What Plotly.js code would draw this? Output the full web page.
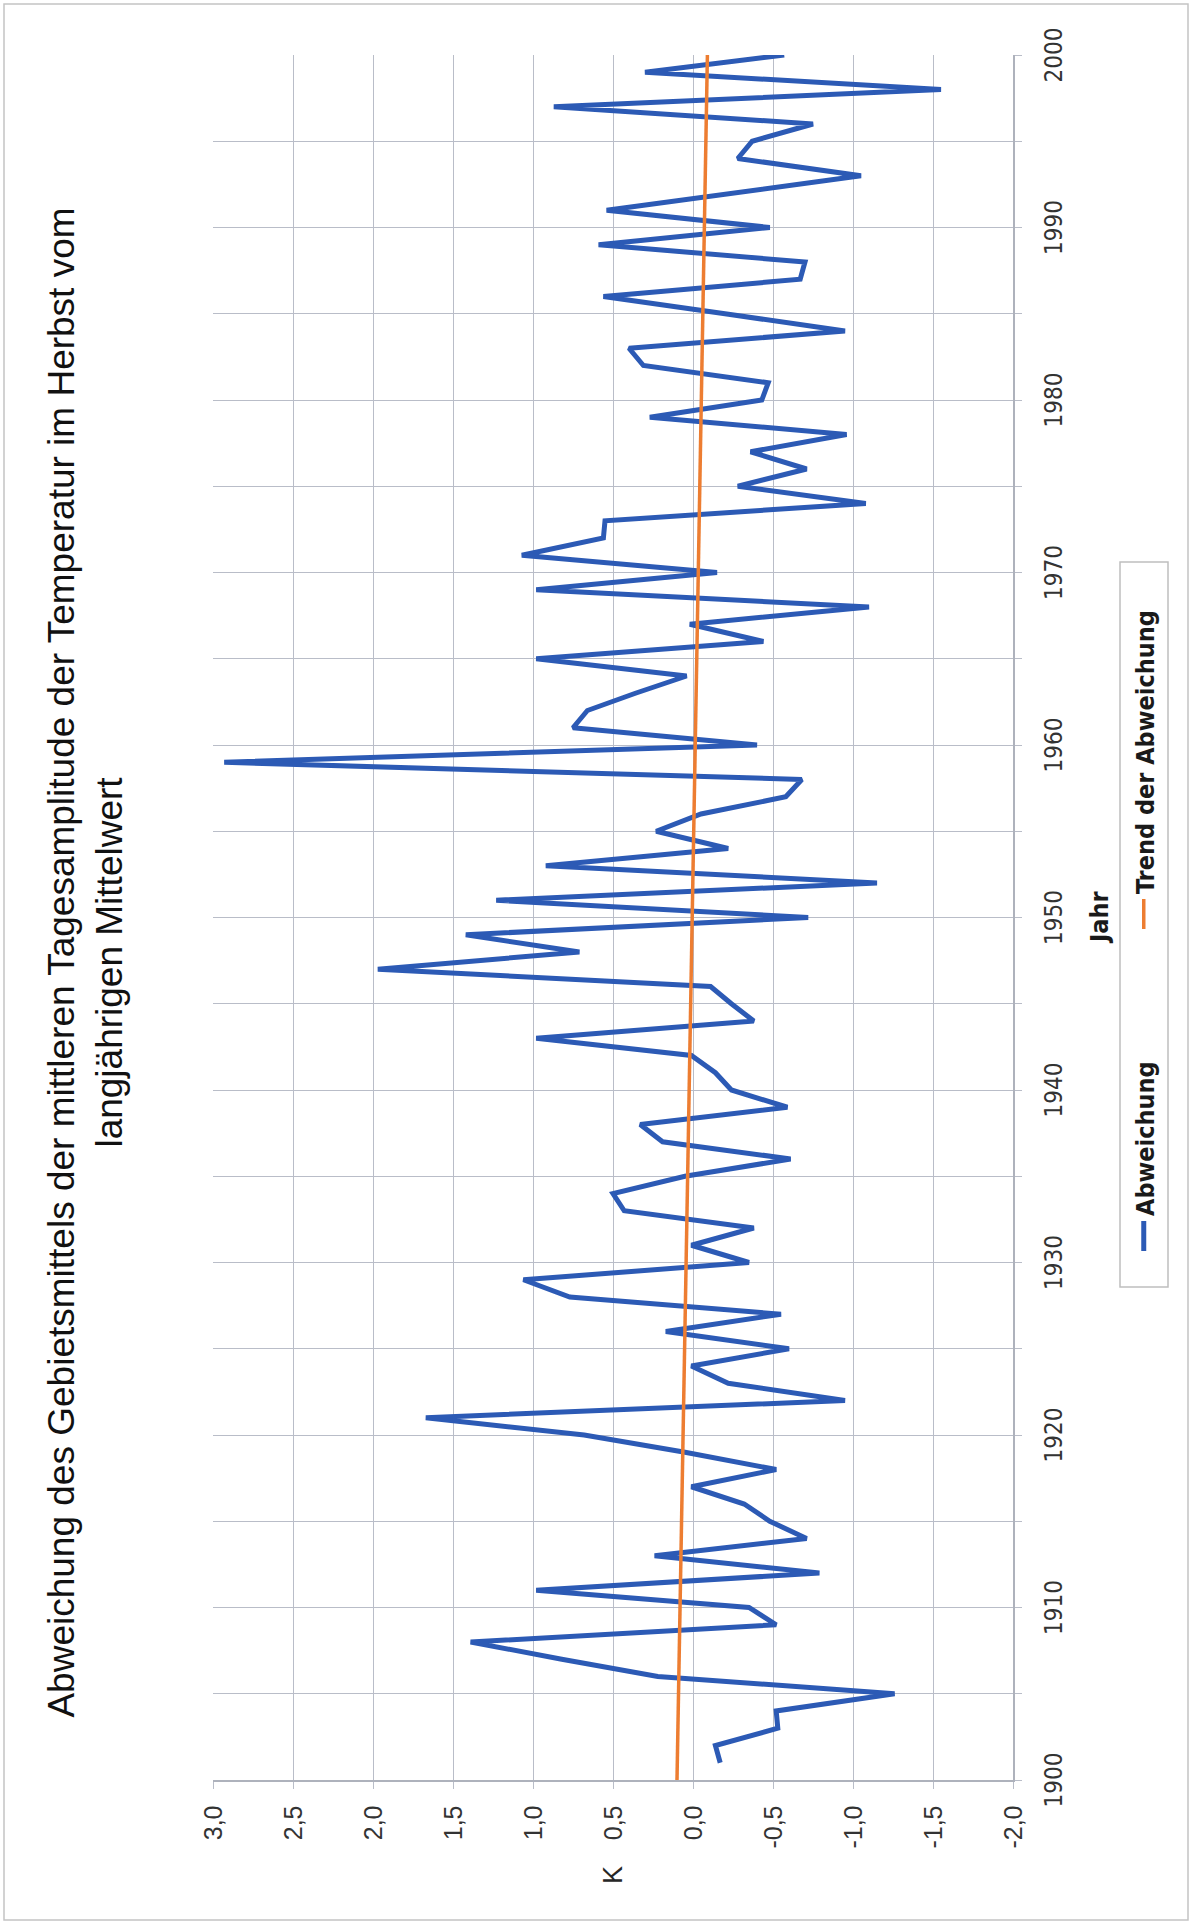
<!DOCTYPE html>
<html>
<head>
<meta charset="utf-8">
<script src="https://cdn.plot.ly/plotly-3.0.1.min.js"></script>
<style>
  html, body { margin:0; padding:0; background:#fff; }
  body { width:1192px; height:1925px; overflow:hidden; position:relative; }
  #chart { position:absolute; left:0; top:0; width:1925px; height:1192px;
           transform-origin:0 0; transform:translate(0px,1925px) rotate(-90deg); }
</style>
</head>
<body>
<div id="chart"></div>
<script>
// Years 1901..2000
const years = [
  1901,1902,1903,1904,1905,1906,1907,1908,1909,1910,
  1911,1912,1913,1914,1915,1916,1917,1918,1919,1920,
  1921,1922,1923,1924,1925,1926,1927,1928,1929,1930,
  1931,1932,1933,1934,1935,1936,1937,1938,1939,1940,
  1941,1942,1943,1944,1945,1946,1947,1948,1949,1950,
  1951,1952,1953,1954,1955,1956,1957,1958,1959,1960,
  1961,1962,1963,1964,1965,1966,1967,1968,1969,1970,
  1971,1972,1973,1974,1975,1976,1977,1978,1979,1980,
  1981,1982,1983,1984,1985,1986,1987,1988,1989,1990,
  1991,1992,1993,1994,1995,1996,1997,1998,1999,2000
];
// Abweichung (K)
const abweichung = [
  -0.17,-0.14,-0.53,-0.52,-1.26, 0.22, 0.82, 1.39,-0.52,-0.35,
   0.98,-0.79, 0.24,-0.71,-0.48,-0.32, 0.01,-0.52, 0.05, 0.68,
   1.67,-0.95,-0.22, 0.01,-0.60, 0.17,-0.55, 0.77, 1.06,-0.35,
   0.01,-0.38, 0.43, 0.50, 0.05,-0.61, 0.19, 0.33,-0.59,-0.24,
  -0.14, 0.01, 0.98,-0.38,-0.24,-0.11, 1.97, 0.71, 1.42,-0.72,
   1.23,-1.15, 0.92,-0.22, 0.23,-0.05,-0.58,-0.68, 2.93,-0.40,
   0.75, 0.66, 0.36, 0.04, 0.98,-0.44, 0.02,-1.10, 0.98,-0.15,
   1.07, 0.56, 0.55,-1.08,-0.28,-0.71,-0.36,-0.96, 0.27,-0.43,
  -0.47, 0.31, 0.40,-0.95,-0.20, 0.56,-0.67,-0.70, 0.59,-0.48,
   0.54,-0.27,-1.05,-0.28,-0.37,-0.75, 0.87,-1.55, 0.30,-0.57
];
// Trend der Abweichung (linear)
const trendYears = [1900, 2000];
const trendValues = [0.10, -0.09];

const yTickVals = [-2.0,-1.5,-1.0,-0.5,0.0,0.5,1.0,1.5,2.0,2.5,3.0];
const yTickText = ["-2,0","-1,5","-1,0","-0,5","0,0","0,5","1,0","1,5","2,0","2,5","3,0"];
const xTickVals = [1900,1910,1920,1930,1940,1950,1960,1970,1980,1990,2000];
const xTickText = ["1900","1910","1920","1930","1940","1950","1960","1970","1980","1990","2000"];

const titleText = "Abweichung des Gebietsmittels der mittleren Tagesamplitude der Temperatur im Herbst vom<br>langjährigen Mittelwert";

const W = 1925, H = 1192;
const L = 145, R = 55, T = 213, B = 179;
const pw = W - L - R, ph = H - T - B;
const px = v => (v - L) / pw;            // pixel -> paper x
const py = v => (H - B - v) / ph;        // pixel -> paper y

const narrow = "'Liberation Sans Narrow', 'Arial Narrow', 'DejaVu Sans Condensed', sans-serif";
const sans = "'Liberation Sans', Arial, sans-serif";
const grid = '#b9bdc8';

const traces = [
  { x: years, y: abweichung, type: 'scatter', mode: 'lines', name: 'Abweichung',
    line: { color: '#2c5ab5', width: 5 } },
  { x: trendYears, y: trendValues, type: 'scatter', mode: 'lines', name: 'Trend der Abweichung',
    line: { color: '#ed7d31', width: 3.5 } }
];

const layout = {
  width: W, height: H,
  margin: { l: L, r: R, t: T, b: B },
  paper_bgcolor: '#ffffff', plot_bgcolor: '#ffffff',
  showlegend: true,
  title: { text: titleText, x: 0.5, xref: 'container', xanchor: 'center',
           y: 1 - 74 / H, yref: 'container', yanchor: 'top',
           font: { family: sans, size: 37, color: '#111111' } },
  xaxis: {
    range: [1900, 2000], tickmode: 'array', tickvals: xTickVals, ticktext: xTickText,
    showgrid: true, gridcolor: grid, gridwidth: 1,
    minor: { tickmode: 'linear', tick0: 1900, dtick: 5, showgrid: true, gridcolor: grid,
             ticks: 'outside', ticklen: 7, tickcolor: grid },
    ticks: 'outside', ticklen: 7, tickcolor: grid,
    showline: true, linecolor: '#aeb2bc', linewidth: 1.5, zeroline: false,
    tickfont: { family: narrow, size: 24, color: '#333333' },
    ticklabelstandoff: 12
  },
  yaxis: {
    range: [-2, 3], tickmode: 'array', tickvals: yTickVals, ticktext: yTickText,
    showgrid: true, gridcolor: grid, gridwidth: 1,
    ticks: 'outside', ticklen: 7, tickcolor: grid,
    showline: true, linecolor: '#aeb2bc', linewidth: 1.5, zeroline: false,
    tickfont: { family: sans, size: 25, color: '#333333' },
    ticklabelstandoff: 12
  },
  legend: {
    orientation: 'h', x: px(669), xanchor: 'left', xref: 'paper',
    y: py(1121), yanchor: 'top', yref: 'paper',
    borderwidth: 0, bgcolor: 'rgba(255,255,255,0)',
    font: { family: narrow, size: 25, color: '#1a1a1a', weight: 'bold' },
    itemwidth: 30, entrywidth: 277, entrywidthmode: 'pixels', traceorder: 'normal'
  },
  annotations: [
    { text: 'K', xref: 'paper', yref: 'paper', x: px(50), y: 0.5,
      xanchor: 'center', yanchor: 'middle', showarrow: false,
      font: { family: sans, size: 27, color: '#262626' } },
    { text: '<b>Jahr</b>', xref: 'paper', yref: 'paper', x: 0.5, y: py(1099),
      xanchor: 'center', yanchor: 'middle', showarrow: false,
      font: { family: narrow, size: 25, color: '#1a1a1a' } }
  ],
  shapes: [
    { type: 'rect', xref: 'paper', yref: 'paper',
      x0: px(5), x1: px(1921), y0: py(1188), y1: py(4),
      line: { color: '#c4c4c4', width: 1.5 }, fillcolor: 'rgba(0,0,0,0)' },
    { type: 'rect', xref: 'paper', yref: 'paper',
      x0: px(638), x1: px(1363), y0: py(1168), y1: py(1120),
      line: { color: '#bfbfbf', width: 1.5 }, fillcolor: 'rgba(0,0,0,0)' }
  ]
};

Plotly.newPlot('chart', traces, layout, { staticPlot: true, displayModeBar: false });
</script>
</body>
</html>
